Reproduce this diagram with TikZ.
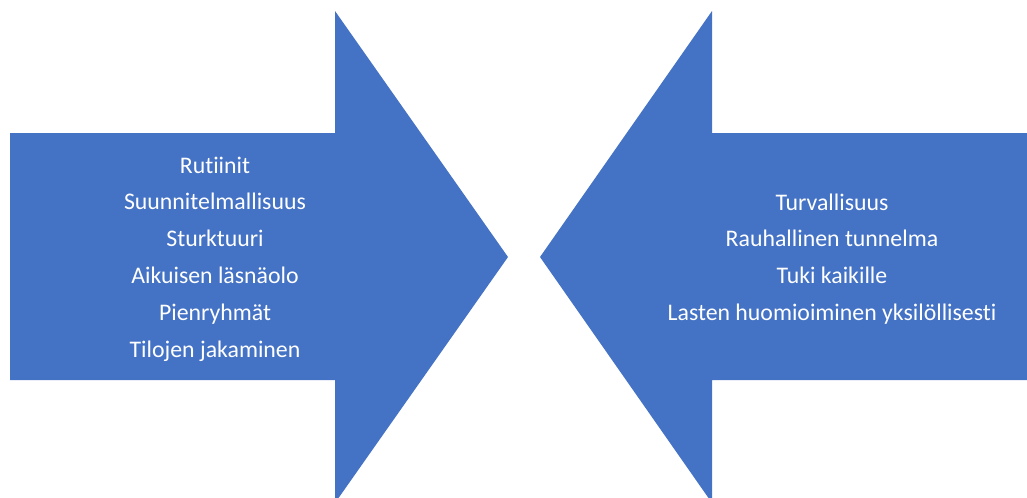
\documentclass[tikz,border=0pt]{standalone}
\usepackage{fontspec}
\setmainfont{Carlito}[Ligatures=NoCommon]
\usepackage{tikz}
\usetikzlibrary{positioning}
\usepackage{xcolor}
\definecolor{officeblue}{HTML}{4472C4}
\tikzset{
  bigarr/.style={fill=officeblue,draw=none},
  lst/.style={text=white,align=center,inner sep=0pt,
              font=\fontsize{17.85}{27.6}\selectfont},
}

\begin{document}
\begin{tikzpicture}[x=0.75pt,y=-0.75pt]
  \useasboundingbox (0,0) rectangle (1027,497);
  % arrows pointing at each other
  \fill[bigarr] (10,133) -- (335,133) -- (335,11) -- (508,257)
                -- (335,503) -- (335,380) -- (10,380) -- cycle;
  \fill[bigarr] (1027,133) -- (712,133) -- (712,11) -- (540,257)
                -- (712,503) -- (712,380) -- (1027,380) -- cycle;

  \node[lst] (lefttxt) at (215,259)
    {Rutiinit\\Suunnitelmallisuus\\Sturktuuri\\Aikuisen läsnäolo\\Pienryhmät\\Tilojen jakaminen};
  \node[lst] (righttxt) at (832,259)
    {Turvallisuus\\Rauhallinen tunnelma\\Tuki kaikille\\Lasten huomioiminen yksilöllisesti};
\end{tikzpicture}
\end{document}
